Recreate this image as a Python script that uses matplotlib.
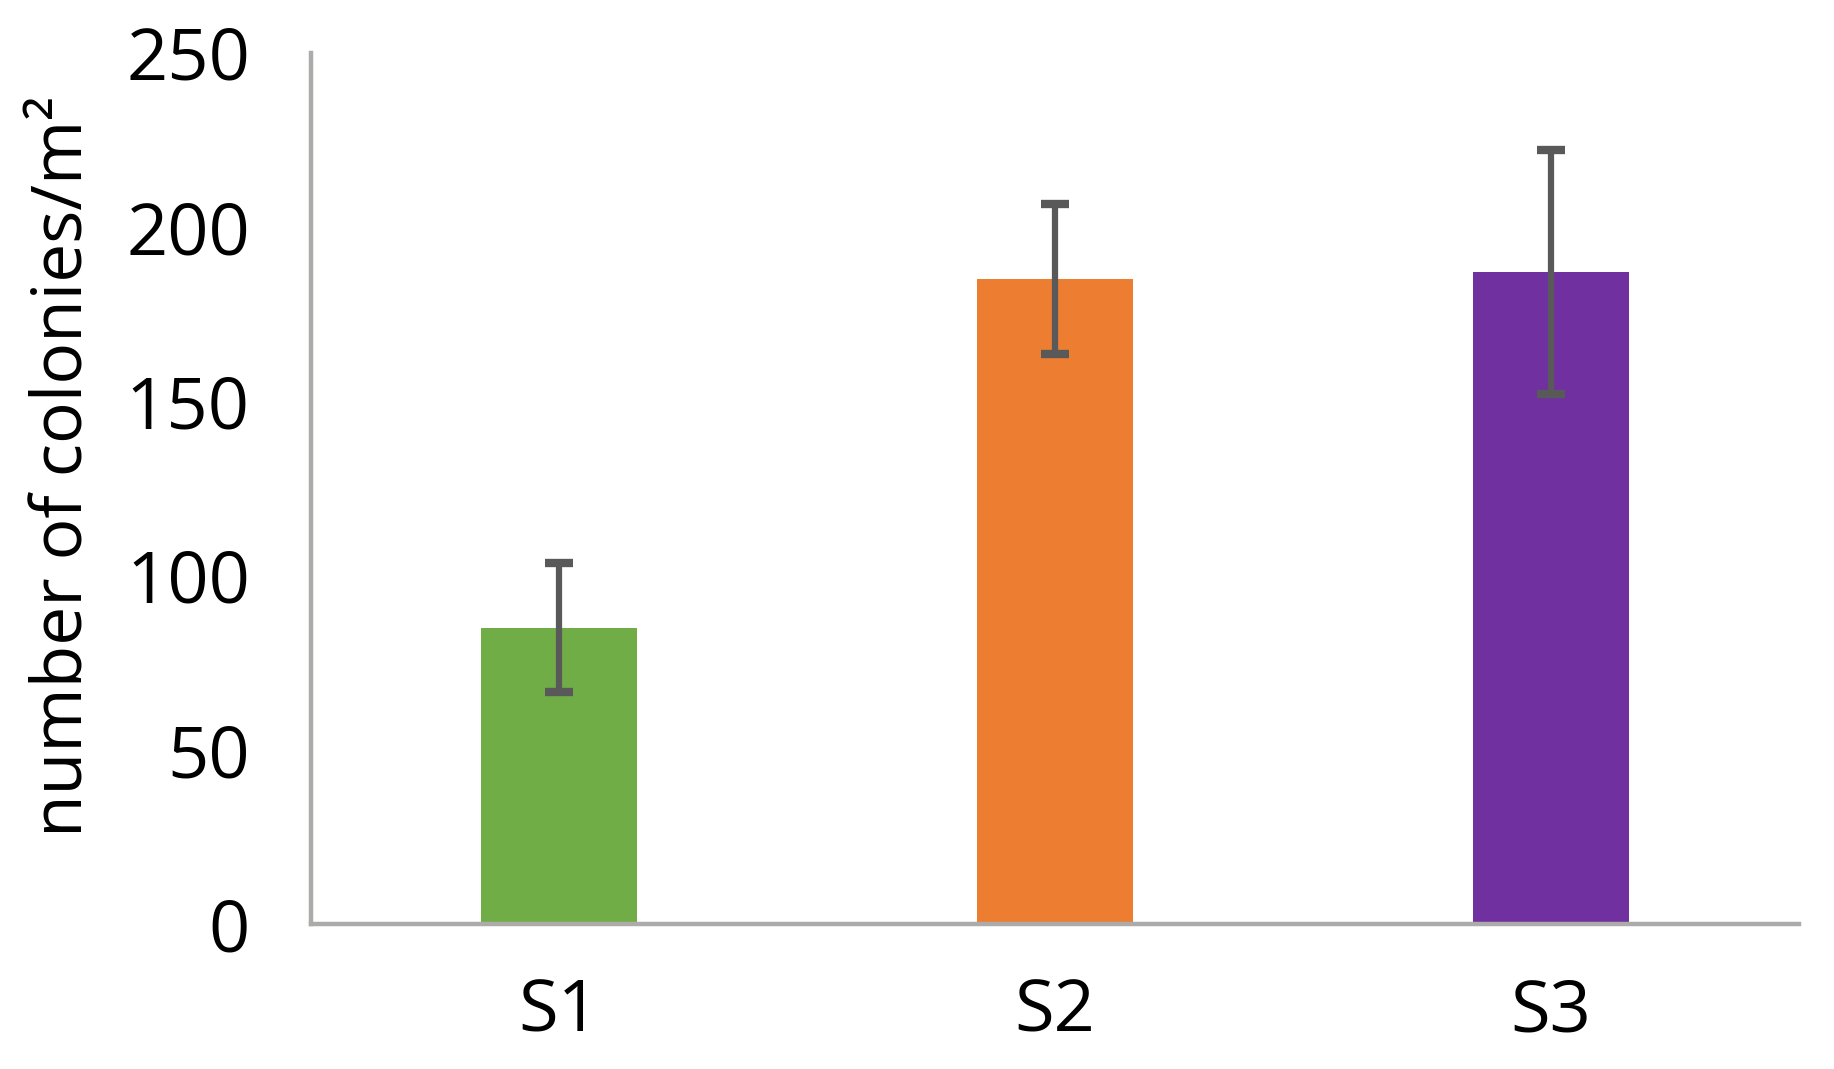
import numpy as np
import matplotlib.pyplot as plt

sites = ["S1", "S2", "S3"]
colonies = [85, 185, 187]
errors = [18.5, 21.5, 35]
colors = ["#70AD47", "#ED7D31", "#7030A0"]
yticks = [0, 50, 100, 150, 200, 250]

plt.rcParams["font.family"] = ["Open Sans", "DejaVu Sans"]

fig = plt.figure(figsize=(18.34, 10.69), dpi=100)
ax = fig.add_axes([0.1696, 0.1356, 0.8114, 0.8152])

x = np.arange(len(sites))
ax.bar(x, colonies, width=0.314, color=colors, zorder=2)
ax.errorbar(x, colonies, yerr=errors, fmt="none", ecolor="#595959",
            elinewidth=4.5, capsize=10, capthick=6, zorder=3)

ax.set_xlim(-0.5, 2.5)
ax.set_ylim(0, 250)
ax.set_xticks(x)
ax.set_xticklabels(sites)
ax.set_yticks(yticks)
ax.tick_params(axis="both", length=0, labelsize=52, pad=38)
ax.tick_params(axis="y", pad=44)

for side in ["top", "right"]:
    ax.spines[side].set_visible(False)
for side in ["left", "bottom"]:
    ax.spines[side].set_color("#ADAAAA")
    ax.spines[side].set_linewidth(3.2)

ax.set_ylabel("number of colonies/m²", fontsize=50)
ax.yaxis.set_label_coords(-0.142, 0.525)

fig.savefig("out.png", dpi=100)
